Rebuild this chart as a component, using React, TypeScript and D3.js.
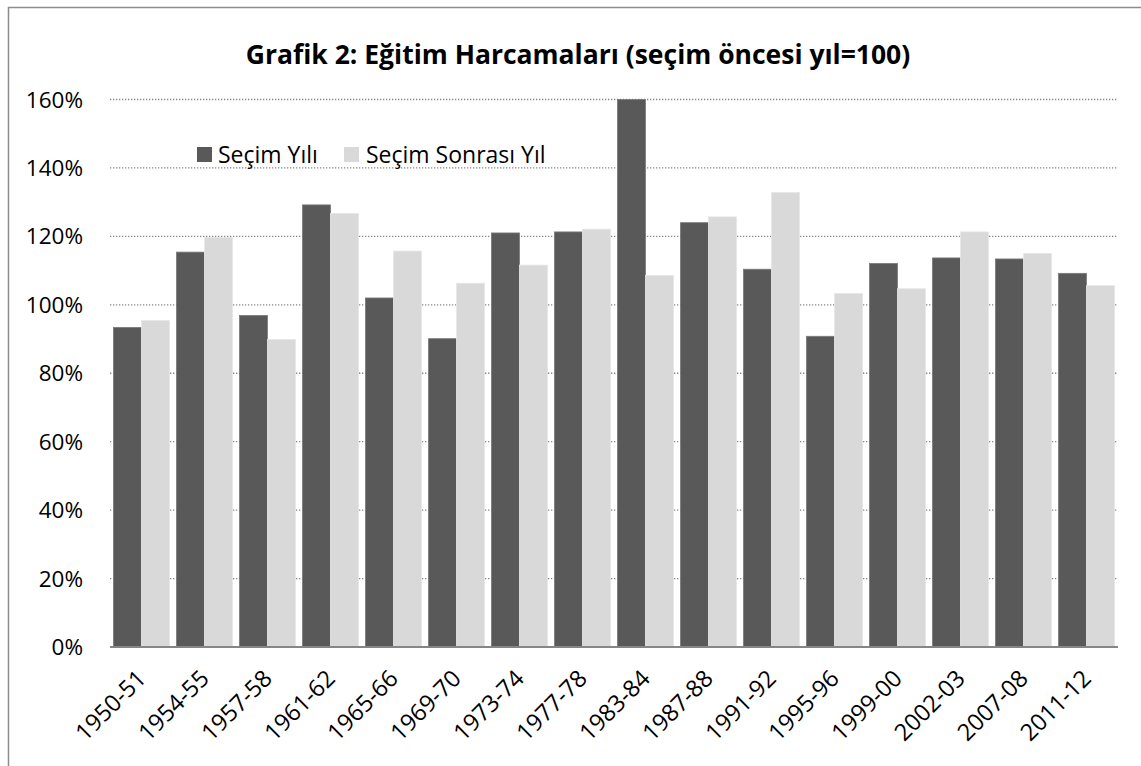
import * as d3 from 'd3';

const categories = ['1950-51', '1954-55', '1957-58', '1961-62', '1965-66', '1969-70', '1973-74', '1977-78', '1983-84', '1987-88', '1991-92', '1995-96', '1999-00', '2002-03', '2007-08', '2011-12'];
const secimYili = [93.4, 115.4, 96.9, 129.2, 102.0, 90.1, 121.0, 121.3, 160, 124.0, 110.4, 90.8, 112.1, 113.7, 113.4, 109.2];
const secimSonrasi = [95.4, 119.7, 89.9, 126.7, 115.7, 106.3, 111.6, 122.1, 108.6, 125.7, 132.8, 103.3, 104.7, 121.3, 115.0, 105.6];
const yTicks = [0, 20, 40, 60, 80, 100, 120, 140, 160];
const seriesNames = ['Seçim Yılı', 'Seçim Sonrası Yıl'];

const W = 1141;
const H = 766;
const font = "'Open Sans', sans-serif";
const dark = '#595959';
const light = '#d9d9d9';

const App = () => {
  const left = 110;
  const right = 1118;
  const top = 99.5;
  const bottom = 647;

  const x = d3.scaleBand().domain(categories).range([left, right]).paddingInner(0.11).paddingOuter(0.055);
  const x1 = d3.scaleBand().domain(['a', 'b']).range([0, x.bandwidth()]);
  const y = d3.scaleLinear().domain([0, 160]).range([bottom, top]);

  return (
    <svg width={W} height={H} style={{ position: 'absolute', left: 0, top: 0 }}>
      <rect x={0} y={0} width={W} height={H} fill="#fff" />
      <rect x={8.5} y={7.5} width={W + 10} height={H + 10} fill="none" stroke="#8c8c8c" strokeWidth={1.5} />
      <text x={578} y={64} textAnchor="middle" fontFamily={font} fontWeight="bold" fontSize={26.5} fill="#000">
        Grafik 2: Eğitim Harcamaları (seçim öncesi yıl=100)
      </text>

      {yTicks.map((t) => (
        <g key={t}>
          {t > 0 && (
            <line x1={left} x2={right} y1={y(t)} y2={y(t)} stroke="#868686" strokeWidth={1.3} strokeDasharray="1.3 1.7" />
          )}
          <text x={83} y={y(t)} dy="0.36em" textAnchor="end" fontFamily={font} fontSize={22.5} fill="#000">
            {t}%
          </text>
        </g>
      ))}

      {categories.map((c, i) => (
        <g key={c} transform={`translate(${x(c)},0)`}>
          <rect x={x1('a')} y={y(secimYili[i])} width={x1.bandwidth()} height={bottom - y(secimYili[i])} fill={dark} stroke="#7a7a7a" strokeWidth={0.8} />
          <rect x={x1('b')} y={y(secimSonrasi[i])} width={x1.bandwidth()} height={bottom - y(secimSonrasi[i])} fill={light} stroke="#e6e6e6" strokeWidth={0.8} />
        </g>
      ))}

      <line x1={left} x2={right} y1={bottom} y2={bottom} stroke="#868686" strokeWidth={2} />

      {categories.map((c) => {
        const cx = (x(c) as number) + x.bandwidth() / 2 + 6;
        return (
          <text key={c} transform={`translate(${cx},${bottom + 33}) rotate(-45)`} textAnchor="end" fontFamily={font} fontSize={23.5} fill="#000">
            {c}
          </text>
        );
      })}

      <g fontFamily={font} fontSize={23}>
        <rect x={197} y={147} width={15} height={15} fill={dark} />
        <text x={218} y={163}>{seriesNames[0]}</text>
        <rect x={344} y={147} width={15} height={15} fill={light} />
        <text x={366} y={163}>{seriesNames[1]}</text>
      </g>
    </svg>
  );
};

export default App;
